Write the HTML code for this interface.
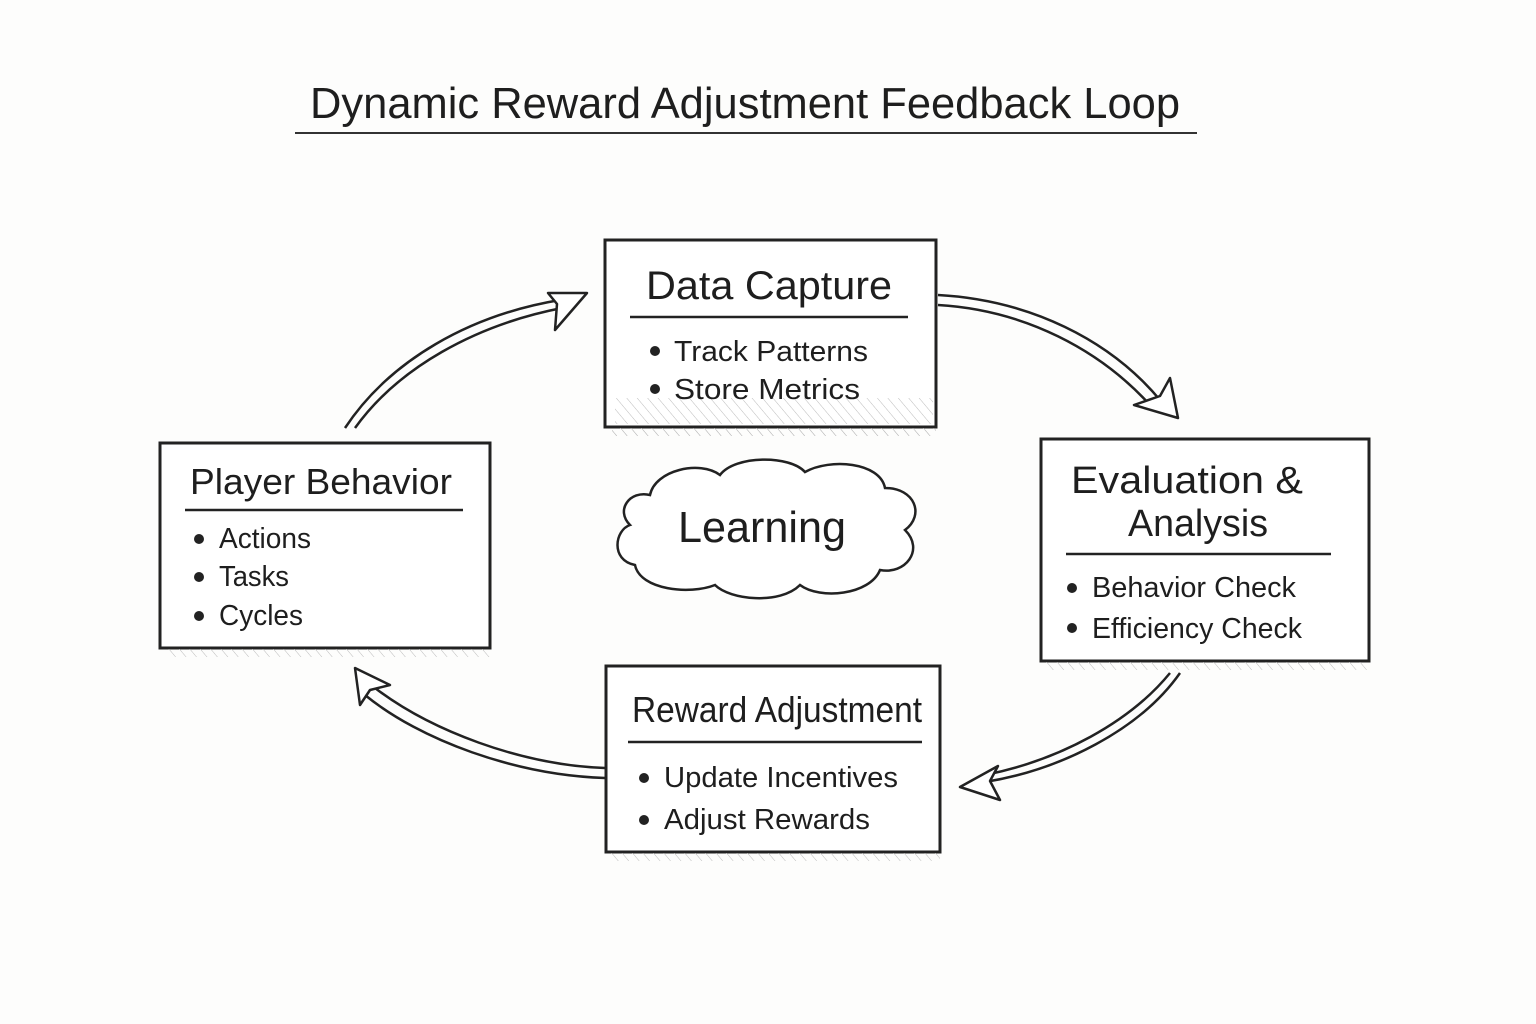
<!DOCTYPE html>
<html><head><meta charset="utf-8"><style>
html,body{margin:0;padding:0;background:#fdfdfc;}
svg{display:block;}
text{font-family:"Liberation Sans",sans-serif;fill:#1e1e1e;}
</style></head><body>
<svg width="1536" height="1024" viewBox="0 0 1536 1024" xmlns="http://www.w3.org/2000/svg">
<defs>
<pattern id="h" width="8" height="8" patternUnits="userSpaceOnUse" patternTransform="rotate(-40)">
<line x1="0" y1="0" x2="0" y2="8" stroke="#bbb" stroke-width="1"/>
</pattern>
<marker id="a" viewBox="0 0 20 20" refX="18" refY="10" markerWidth="12" markerHeight="12" orient="auto" markerUnits="userSpaceOnUse">
</marker>
</defs>
<rect width="1536" height="1024" fill="#fdfdfc"/>

<!-- title -->
<text x="745" y="118" font-size="44" text-anchor="middle" textLength="870" lengthAdjust="spacingAndGlyphs">Dynamic Reward Adjustment Feedback Loop</text>
<line x1="295" y1="133" x2="1197" y2="133" stroke="#333" stroke-width="2"/>

<g stroke="#222" fill="none">
<!-- Data Capture -->
<rect x="605" y="240" width="331" height="187" fill="#fff" stroke-width="3"/>
<rect x="615" y="398" width="318" height="26" fill="url(#h)" stroke="none"/>
<line x1="612" y1="433" x2="936" y2="433" stroke="url(#h)" stroke-width="6"/>
<line x1="630" y1="317" x2="908" y2="317" stroke-width="2.5"/>
<!-- Player Behavior -->
<rect x="160" y="443" width="330" height="205" fill="#fff" stroke-width="3"/>
<line x1="185" y1="510" x2="463" y2="510" stroke-width="2.5"/>
<!-- Evaluation -->
<rect x="1041" y="439" width="328" height="222" fill="#fff" stroke-width="3"/>
<line x1="1066" y1="554" x2="1331" y2="554" stroke-width="2.5"/>
<!-- Reward -->
<rect x="606" y="666" width="334" height="186" fill="#fff" stroke-width="3"/>
<line x1="628" y1="742" x2="922" y2="742" stroke-width="2.5"/>
</g>
<!-- shadows hatch under boxes -->
<g fill="url(#h)">
<rect x="612" y="428" width="324" height="8"/>
<rect x="166" y="649" width="324" height="8"/>
<rect x="1046" y="662" width="323" height="8"/>
<rect x="610" y="853" width="330" height="8"/>
</g>

<!-- texts -->
<text x="646" y="299" font-size="40" textLength="246" lengthAdjust="spacingAndGlyphs">Data Capture</text>
<circle cx="655" cy="351" r="5" fill="#222"/><text x="674" y="361" font-size="29" textLength="194" lengthAdjust="spacingAndGlyphs">Track Patterns</text>
<circle cx="655" cy="389" r="5" fill="#222"/><text x="674" y="399" font-size="29" textLength="186" lengthAdjust="spacingAndGlyphs">Store Metrics</text>

<text x="190" y="494" font-size="36" textLength="262" lengthAdjust="spacingAndGlyphs">Player Behavior</text>
<circle cx="199" cy="539" r="5" fill="#222"/><text x="219" y="548" font-size="29" textLength="92" lengthAdjust="spacingAndGlyphs">Actions</text>
<circle cx="199" cy="577" r="5" fill="#222"/><text x="219" y="586" font-size="29" textLength="70" lengthAdjust="spacingAndGlyphs">Tasks</text>
<circle cx="199" cy="616" r="5" fill="#222"/><text x="219" y="625" font-size="29" textLength="84" lengthAdjust="spacingAndGlyphs">Cycles</text>

<text x="1071" y="493" font-size="38" textLength="232" lengthAdjust="spacingAndGlyphs">Evaluation &amp;</text>
<text x="1128" y="536" font-size="38" textLength="140" lengthAdjust="spacingAndGlyphs">Analysis</text>
<circle cx="1072" cy="588" r="5" fill="#222"/><text x="1092" y="597" font-size="29" textLength="204" lengthAdjust="spacingAndGlyphs">Behavior Check</text>
<circle cx="1072" cy="628" r="5" fill="#222"/><text x="1092" y="638" font-size="29" textLength="210" lengthAdjust="spacingAndGlyphs">Efficiency Check</text>

<text x="632" y="722" font-size="36" textLength="290" lengthAdjust="spacingAndGlyphs">Reward Adjustment</text>
<circle cx="644" cy="778" r="5" fill="#222"/><text x="664" y="787" font-size="29" textLength="234" lengthAdjust="spacingAndGlyphs">Update Incentives</text>
<circle cx="644" cy="820" r="5" fill="#222"/><text x="664" y="829" font-size="29" textLength="206" lengthAdjust="spacingAndGlyphs">Adjust Rewards</text>

<!-- cloud -->
<path d="M650,495 C655,470 700,460 720,475 C735,455 790,455 805,472 C830,458 880,462 885,488 C915,488 925,515 905,530 C925,550 905,575 880,570 C870,595 820,600 800,585 C780,605 730,600 715,585 C690,595 640,590 635,565 C610,560 615,530 630,525 C615,510 630,490 650,495 Z" fill="#fff" stroke="#222" stroke-width="2.5"/>
<text x="678" y="542" font-size="44" textLength="168" lengthAdjust="spacingAndGlyphs">Learning</text>

<!-- arrows -->
<g stroke="#222" stroke-width="2.5" fill="none">
<path d="M345,428 C390,360 470,315 560,300"/>
<path d="M355,428 C398,368 475,325 562,308"/>
<path d="M938,295 C1030,300 1110,340 1160,400"/>
<path d="M938,305 C1025,310 1100,350 1150,405"/>
<path d="M1180,673 C1140,730 1060,770 985,782"/>
<path d="M1170,673 C1130,722 1060,760 985,775"/>
<path d="M605,768 C520,765 430,730 375,688"/>
<path d="M605,778 C515,775 420,740 365,695"/>
</g>
<g fill="#fff" stroke="#222" stroke-width="2.5" stroke-linejoin="round">
<polygon points="587,293 548,293 557,304 555,330"/>
<polygon points="1178,418 1170,378 1160,396 1134,405"/>
<polygon points="960,787 998,766 990,781 1000,800"/>
<polygon points="355,668 360,705 370,690 390,685"/>
</g>
</svg>
</body></html>
